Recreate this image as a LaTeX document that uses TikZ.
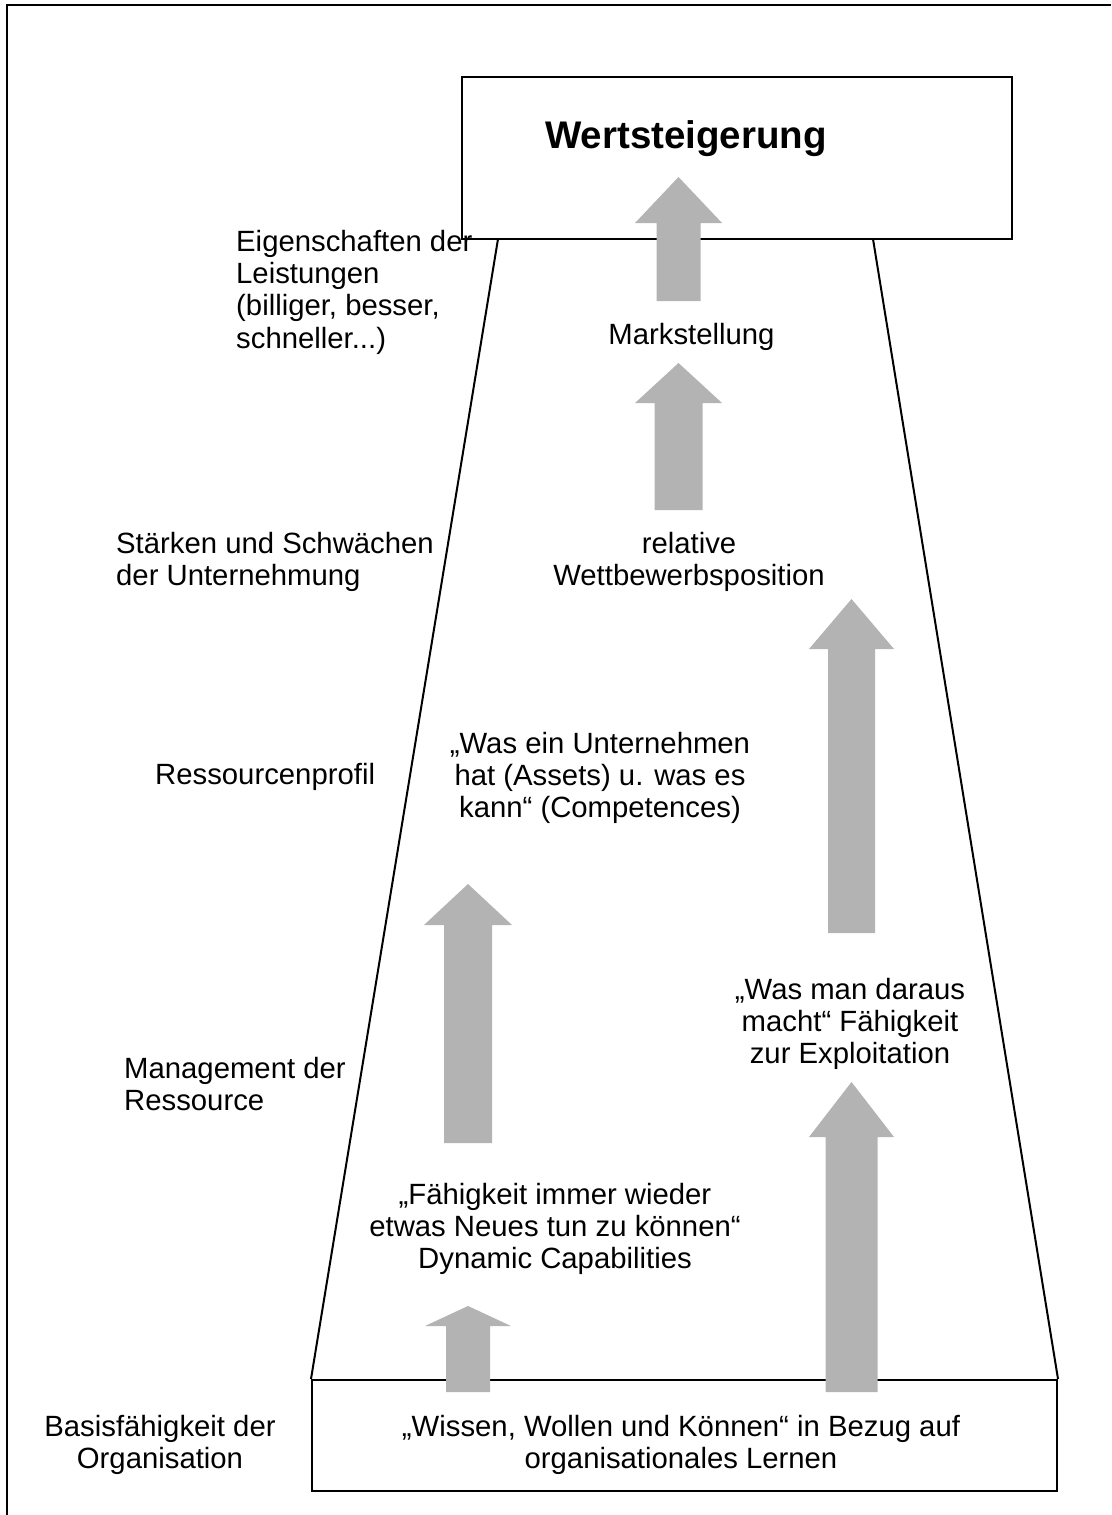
\documentclass[tikz,border=0pt]{standalone}
\usepackage{fontspec}
\setmainfont{Liberation Sans}
\definecolor{arrowgray}{RGB}{179,179,179}
\newcommand\lineone{\rule{0pt}{30pt}}
% cx, bottom, headbase, tip, halfshaft, halfhead
\newcommand\upblock[6]{%
  \fill[arrowgray] (#1-#5,#2) -- (#1-#5,#3) -- (#1-#6,#3) -- (#1,#4) -- (#1+#6,#3) -- (#1+#5,#3) -- (#1+#5,#2) -- cycle;}
\tikzset{
  txt/.style={inner sep=0pt, font=\fontsize{29.3}{32.3}\selectfont},
  boxstyle/.style={draw, line width=2pt, fill=white, inner sep=0pt},
  frameline/.style={line width=2.5pt},
  sideline/.style={line width=2pt},
}
\begin{document}
\begin{tikzpicture}[x=1pt,y=-1pt]
\useasboundingbox (0,0) rectangle (1111,1515);
% outer frame (only top and left edges visible)
\draw[frameline] (7,1515) -- (7,5) -- (1111,5);
% coordinates for trapezoid
\coordinate (tl) at (498,239);
\coordinate (tr) at (873,239);
% boxes
\node[boxstyle, minimum width=550pt, minimum height=162pt] (top) at (737,158) {};
\node[boxstyle, minimum width=745pt, minimum height=111pt] (base) at (684.5,1435.5) {};
% trapezoid sides
\draw[sideline] (tl) -- (base.north west);
\draw[sideline] (tr) -- (base.north east);
% block arrows
\upblock{678.5}{301}{223}{177}{22}{43.5}
\upblock{678.5}{510}{403}{363}{24}{43.5}
\upblock{851.5}{933}{649}{599}{23.5}{42.5}
\upblock{468}{1143}{925}{884}{24}{44}
\upblock{851.5}{1392}{1137}{1082}{26}{42.5}
\upblock{468}{1392}{1326}{1306}{22}{43}
% texts
\node[inner sep=0pt, anchor=base, font=\fontsize{38.5}{46}\selectfont\bfseries] (wert) at (686,148) {Wertsteigerung};
\node[txt, align=left, anchor=north west] (eig) at (236,221) {\lineone Eigenschaften der\\Leistungen\\(billiger, besser,\\schneller...)};
\node[txt, anchor=base] (mark) at (691.5,344) {Markstellung};
\node[txt, align=left, anchor=north west] (staerk) at (116,523) {\lineone Stärken und Schwächen\\der Unternehmung};
\node[txt, align=center, anchor=north] (rel) at (689,523) {\lineone relative\\Wettbewerbsposition};
\node[txt, anchor=base west] (ress) at (155,784) {Ressourcenprofil};
\node[txt, align=center, anchor=north] (hat) at (600,723) {\lineone „Was ein Unternehmen\\hat (Assets) u. was es\\kann“ (Competences)};
\node[txt, align=left, anchor=north west] (mgmt) at (124,1048) {\lineone Management der\\Ressource};
\node[txt, align=center, anchor=north] (expl) at (850,969) {\lineone „Was man daraus\\macht“ Fähigkeit\\zur Exploitation};
\node[txt, align=center, anchor=north] (dyn) at (555,1174) {\lineone „Fähigkeit immer wieder\\etwas Neues tun zu können“\\Dynamic Capabilities};
\node[txt, align=center, anchor=north] (basis) at (160,1406) {\lineone Basisfähigkeit der\\Organisation};
\node[txt, align=center, anchor=north] (wissen) at (681,1406) {\lineone „Wissen, Wollen und Können“ in Bezug auf\\organisationales Lernen};
\end{tikzpicture}
\end{document}
